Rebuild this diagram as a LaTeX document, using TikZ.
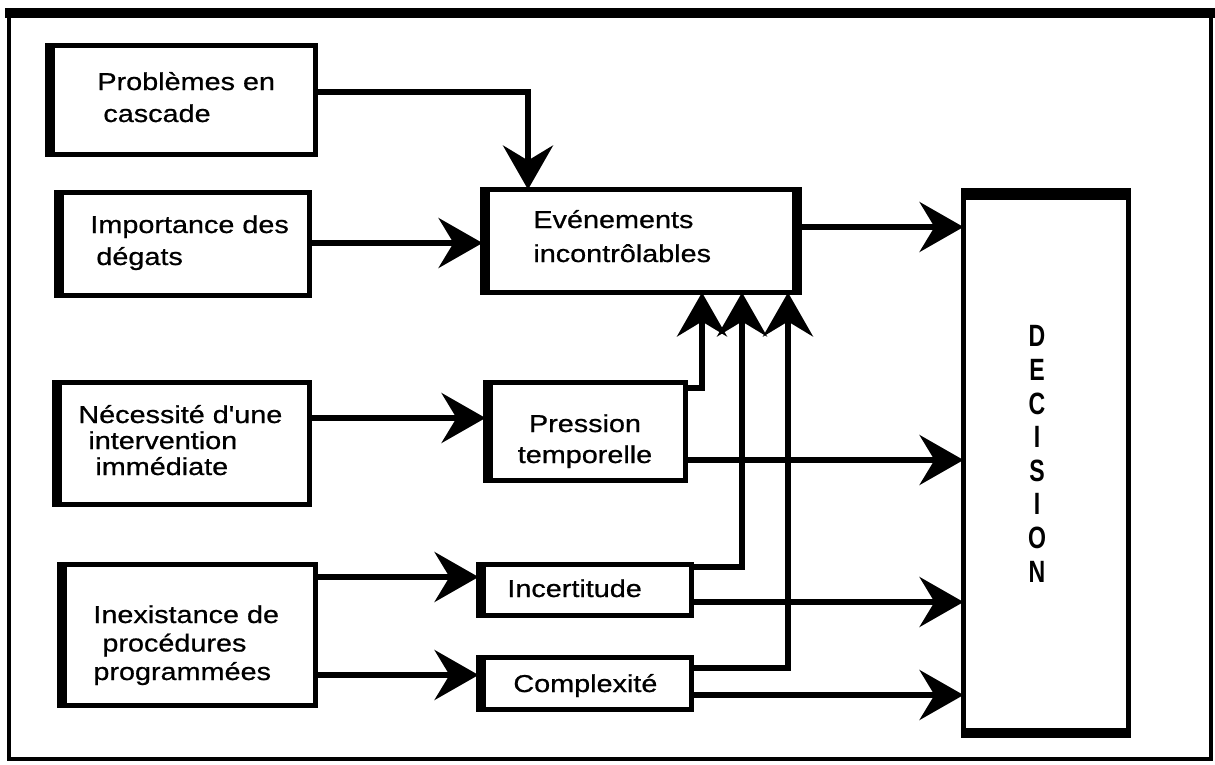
\documentclass[tikz,border=0pt]{standalone}
\usepackage{fontspec}
\newfontfamily\bodyf[FakeStretch=1.18,FakeBold=0.7]{Liberation Sans}
\newfontfamily\decf[FakeStretch=0.75]{Liberation Sans}
\usetikzlibrary{arrows.meta,calc}
\begin{document}
\begin{tikzpicture}[x=0.5pt,y=-0.5pt,
  box/.style={draw, line width=2.5pt, inner sep=0pt, outer sep=0pt},
  side/.style={line width=5pt},
  txt/.style={inner sep=0pt, align=left, anchor=base west},
  arr/.style={line width=2.6pt, -{Stealth[length=22pt,width=25pt,inset=7.5pt]}}]
\useasboundingbox (0,0) rectangle (1215,765);
% outer frame
\draw[line width=1.8pt] (9,13) rectangle (1211,759);
\draw[line width=5pt] (5,13) -- (1215,13);
% boxes
\node[box, minimum width=134pt, minimum height=54.5pt] (pc) at (181.5,100) {};
\node[box, minimum width=126.5pt, minimum height=51.5pt] (im) at (183,244) {};
\node[box, minimum width=158.5pt, minimum height=51.5pt] (ev) at (641,241) {};
\node[box, minimum width=82.5pt, minimum height=272.5pt] (de) at (1046,463) {};
\node[box, minimum width=127.5pt, minimum height=61pt] (ne) at (182,443.5) {};
\node[box, minimum width=100pt, minimum height=49pt] (pr) at (585.5,431.5) {};
\node[box, minimum width=128pt, minimum height=70.5pt] (inx) at (187.5,635) {};
\node[box, minimum width=106.5pt, minimum height=25.5pt] (ic) at (585,590) {};
\node[box, minimum width=106.5pt, minimum height=26pt] (co) at (585,683.5) {};
% thick sides
\foreach \b in {pc,im,ev,ne,pr,inx,ic,co}{
  \draw[side] ($(\b.north west)+(2.5,0)$) -- ($(\b.south west)+(2.5,0)$);
}
\draw[side] ($(ev.north east)+(-2.5,0)$) -- ($(ev.south east)+(-2.5,0)$);
\draw[line width=6pt] ($(de.north west)+(0,3.5)$) -- ($(de.north east)+(0,3.5)$);
\draw[line width=5pt] ($(de.south west)+(0,-2.5)$) -- ($(de.south east)+(0,-2.5)$);
% texts (anchor = baseline of the last line)
\node[txt, font=\bodyf\fontsize{12.2pt}{16pt}\selectfont] (tpc) at (97,122) {Problèmes en\\\hspace*{3pt}cascade};
\node[txt, font=\bodyf\fontsize{12.2pt}{16pt}\selectfont] (tim) at (90,265) {Importance des\\\hspace*{3pt}dégats};
\node[txt, font=\bodyf\fontsize{12.2pt}{17pt}\selectfont] (tev) at (533,262) {Evénements\\incontrôlables};
\node[txt, font=\bodyf\fontsize{12.2pt}{13pt}\selectfont] (tne) at (78,475) {Nécessité d'une\\\hspace*{5pt}intervention\\\hspace*{8.5pt}immédiate};
\node[inner sep=0pt, align=center, anchor=base, font=\bodyf\fontsize{12.2pt}{15.5pt}\selectfont] (tpr) at (585,463) {Pression\\temporelle};
\node[txt, font=\bodyf\fontsize{12.2pt}{15pt}\selectfont] (tic) at (507,597) {Incertitude};
\node[txt, font=\bodyf\fontsize{12.2pt}{15pt}\selectfont] (tco) at (513,692) {Complexité};
\node[txt, font=\bodyf\fontsize{12.2pt}{14.25pt}\selectfont] (tinx) at (93,680) {Inexistance de\\\hspace*{4.5pt}procédures\\programmées};
\node[inner sep=0pt, align=center, anchor=base, font=\decf\bfseries\fontsize{15.4pt}{16.8pt}\selectfont] (tde) at (1037,582) {D\\E\\C\\I\\S\\I\\O\\N};
% connector start points
\coordinate (s1) at ($(im.north east)+(0,50.5)$);
\coordinate (s2) at ($(ev.north east)+(0,37.5)$);
\coordinate (s3) at ($(ne.north east)+(0,35.5)$);
\coordinate (s4) at ($(pr.north east)+(0,77.5)$);
\coordinate (s5) at ($(inx.north east)+(0,12.5)$);
\coordinate (s6) at ($(inx.north east)+(0,110.5)$);
\coordinate (s7) at ($(ic.north east)+(0,37.5)$);
\coordinate (s8) at ($(co.north east)+(0,37.5)$);
% connectors
\draw[arr] ($(pc.north east)+(0,46.5)$) -| ($(ev.north west)+(45.5,0)$);
\draw[arr] (s1) -- (s1 -| ev.west);
\draw[arr] (s2) -- (s2 -| de.west);
\draw[arr] (s3) -- (s3 -| pr.west);
\draw[arr] ($(pr.north east)+(0,5.5)$) -| ($(ev.south west)+(219.5,0)$);
\draw[arr] (s4) -- (s4 -| de.west);
\draw[arr] (s5) -- (s5 -| ic.west);
\draw[arr] (s6) -- (s6 -| co.west);
\draw[arr] ($(ic.north east)+(0,2.5)$) -| ($(ev.south west)+(259.5,0)$);
\draw[arr] (s7) -- (s7 -| de.west);
\draw[arr] ($(co.north east)+(0,10.5)$) -| ($(ev.south west)+(305.5,0)$);
\draw[arr] (s8) -- (s8 -| de.west);
\end{tikzpicture}
\end{document}
